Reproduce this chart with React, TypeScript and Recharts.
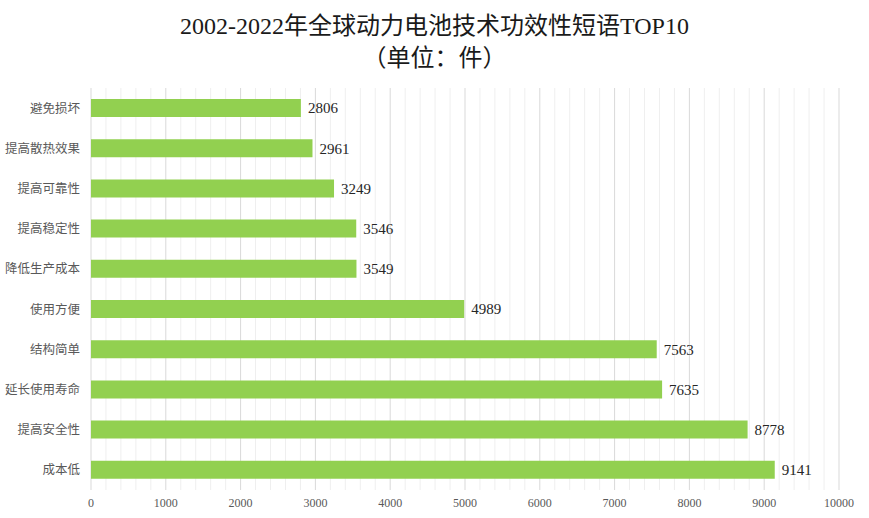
import React from 'react';
import { BarChart, Bar, XAxis, YAxis, CartesianGrid, LabelList } from 'recharts';

const categories = ['避免损坏', '提高散热效果', '提高可靠性', '提高稳定性', '降低生产成本', '使用方便', '结构简单', '延长使用寿命', '提高安全性', '成本低'];
const counts = [2806, 2961, 3249, 3546, 3549, 4989, 7563, 7635, 8778, 9141];
const majorTicks = [0, 1000, 2000, 3000, 4000, 5000, 6000, 7000, 8000, 9000, 10000];
const minorTicks = [
  200, 400, 600, 800, 1200, 1400, 1600, 1800, 2200, 2400, 2600, 2800, 3200, 3400, 3600, 3800,
  4200, 4400, 4600, 4800, 5200, 5400, 5600, 5800, 6200, 6400, 6600, 6800, 7200, 7400, 7600, 7800,
  8200, 8400, 8600, 8800, 9200, 9400, 9600, 9800,
];
const X_MAX = 10000;

const data = categories.map((name, i) => ({ name, value: counts[i] }));

const FONT = "'Liberation Serif', 'Noto Sans CJK SC', serif";

// map axis values to pixel x using the plot offset
const gridAt = (values: number[]) => ({ offset }: any) =>
  values.map((v) => offset.left + (v / X_MAX) * offset.width);

export default function App() {
  return (
    <div style={{ position: 'fixed', left: 0, top: 0, width: 869, height: 518, background: '#fff', fontFamily: FONT }}>
      <div style={{ position: 'absolute', top: 10, left: 0, width: 869, textAlign: 'center', fontSize: 24, lineHeight: '32px', color: '#1a1a1a' }}>
        <div>2002-2022年全球动力电池技术功效性短语TOP10</div>
        <div>（单位：件）</div>
      </div>
      <BarChart
        width={869}
        height={518}
        data={data}
        layout="vertical"
        margin={{ top: 88, right: 30, bottom: 0, left: 0 }}
      >
        <CartesianGrid horizontal={false} stroke="#efefef" verticalCoordinatesGenerator={gridAt(minorTicks)} />
        <CartesianGrid horizontal={false} stroke="#d9d9d9" verticalCoordinatesGenerator={gridAt(majorTicks)} />
        <XAxis
          type="number"
          domain={[0, X_MAX]}
          ticks={majorTicks}
          axisLine={false}
          tickLine={false}
          height={28}
          tick={{ fontSize: 12, fill: '#595959', fontFamily: FONT }}
          tickMargin={2}
        />
        <YAxis
          type="category"
          dataKey="name"
          width={91}
          axisLine={false}
          tickLine={false}
          tickMargin={5}
          tick={{ fontSize: 12.5, fill: '#595959', fontFamily: "'Noto Sans CJK SC', sans-serif" }}
        />
        <Bar dataKey="value" fill="#92D050" barSize={18} isAnimationActive={false}>
          <LabelList dataKey="value" position="right" offset={7} style={{ fontSize: 15, fill: '#262626', fontFamily: FONT }} />
        </Bar>
      </BarChart>
    </div>
  );
}
